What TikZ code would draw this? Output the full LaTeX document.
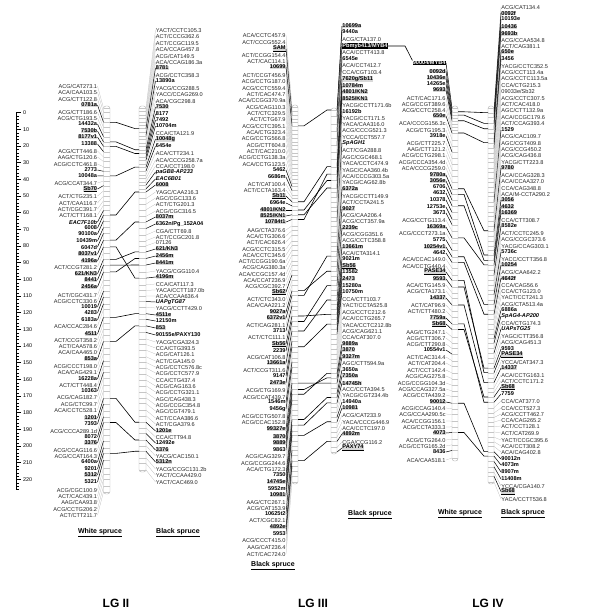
\documentclass[tikz,border=0pt]{standalone}
\usepackage{fontspec}
\setmainfont{Liberation Sans}
\newcount\mkn
\def\sideR{0}
\newcommand\setcol[4]{\def\sideR{#1}\def\xlab{#2}\def\xbA{#3}\def\xbB{#4}}
\newcommand\setmap[6]{\def\mLa{#1}\def\mBa{#2}\def\mLb{#3}\def\mBb{#4}\def\mLc{#5}\def\mBc{#6}}
\newcommand\mk[4][]{%
  \global\advance\mkn by 1\relax
  \def\mkname{#1}%
  \ifx\mkname\empty\edef\mkname{m\the\mkn}\fi
  \pgfmathsetmacro\yb{(#2<\mLb)?(\mBa+(#2-\mLa)/(\mLb-\mLa)*(\mBb-\mBa)):(\mBb+(#2-\mLb)/(\mLc-\mLb)*(\mBc-\mBb))}%
  \draw[tick] (\xbA,\yb) -- (\xbB,\yb);
  \ifnum\sideR=0
    \node[lab,k#3,anchor=east] (\mkname) at (\xlab,#2) {#4};
    \draw[lk#3] (\mkname.east) -- (\xbA,\yb);
    \coordinate (\mkname-b) at (\xbB,\yb);
  \else
    \node[lab,k#3,anchor=west] (\mkname) at (\xlab,#2) {#4};
    \draw[lk#3] (\mkname.west) -- (\xbB,\yb);
    \coordinate (\mkname-b) at (\xbA,\yb);
  \fi
}
\newcommand\cn[2]{\draw[conn] (#1-b) -- ++(6,0) -- ([xshift=-4pt]#2-b) -- (#2-b);}
\begin{document}
\begin{tikzpicture}[x=1pt,y=-1pt,
  lab/.style={inner sep=0.25pt, font=\fontsize{5.6}{6}\selectfont},
  kn/.style={text=black!85},
  kb/.style={font=\fontsize{5.6}{6}\selectfont\bfseries},
  kh/.style={kb, fill=gray!30},
  ku/.style={kh},
  ki/.style={font=\fontsize{5.6}{6}\selectfont\bfseries\itshape},
  kk/.style={kb, fill=black, text=white},
  lkn/.style={draw=gray!55, line width=0.25pt},
  lkb/.style={draw=black, line width=0.5pt},
  lkh/.style={lkb}, lku/.style={lkb}, lki/.style={lkb}, lkk/.style={lkb},
  tick/.style={draw=gray!45, line width=0.2pt},
  bar/.style={draw=gray!60, line width=0.4pt, rounded corners=2.5pt, fill=white},
  conn/.style={draw=black, line width=0.6pt},
  sclab/.style={inner sep=0.5pt, font=\fontsize{5.4}{6}\selectfont},
  sp/.style={inner sep=0.5pt, font=\fontsize{7}{8}\selectfont\bfseries},
  lg/.style={inner sep=0.5pt, font=\fontsize{12}{14}\selectfont\bfseries}]
\useasboundingbox (0,0) rectangle (600,610);
% ---------- scale bar ----------
\draw[line width=0.6pt] (16,112.7) -- (16,489.4);
\foreach \c in {0,2,...,226}{%
  \pgfmathsetmacro\yy{112.7+\c*1.6667}%
  \pgfmathtruncatemacro\mm{mod(\c,10)}%
  \ifnum\mm=0
    \draw[line width=0.5pt] (16,\yy) -- ++(5,0);
    \node[sclab,anchor=west] (s\c) at (22.5,\yy) {\c};
  \else
    \draw[line width=0.4pt] (16,\yy) -- ++(2.5,0);
  \fi}
% ---------- bars ----------
\draw[bar] (103.5,106) rectangle (110,494);
\draw[bar] (139,106) rectangle (146,472);
\draw[bar] (292,105) rectangle (298,484);
\draw[bar] (331,108) rectangle (337,454);
\draw[bar] (452,106) rectangle (458,461);
\draw[bar] (488,106) rectangle (494,484);
% ================= LG II white spruce =================
\setcol{0}{97.5}{103.5}{110}\setmap{86}{108}{228}{215}{515}{492}
\mk{86}{n}{ACG/CAT273.1}
\mk{92}{n}{ACA/CAA103.5}
\mk{99}{n}{ACG/CTT122.8}
\mk[IIw0781]{105}{h}{0781a}
\mk{112}{n}{ACG/CTT186.6}
\mk{118}{n}{ACG/CTG193.5}
\mk{124}{b}{14432a}
\mk[IIw7530]{131}{h}{7530b}
\mk[IIw8177]{137}{h}{8177v1}
\mk{144}{b}{13388}
\mk{151}{n}{ACG/CTT446.8}
\mk{157}{n}{AAG/CTG120.6}
\mk{164}{n}{ACG/CCTC461.8}
\mk{170}{b}{2773}
\mk[IIw10048]{176}{b}{10048a}
\mk{183}{n}{ACG/CCAT344.7}
\mk{189}{u}{\underline{Sb70}}
\mk{196}{n}{ACT/CTG235.1}
\mk{203}{n}{ACT/CAA116.7}
\mk{209}{n}{ACT/CGC391.7}
\mk{215}{n}{ACT/CTT168.1}
\mk{222}{i}{EAC7F10b}
\mk[IIw6008]{228}{b}{6008}
\mk{234}{b}{90100a}
\mk{241}{b}{10439m}
\mk{247}{b}{6047d}
\mk[IIw8037]{254}{h}{8037v1}
\mk[IIw4196]{261}{h}{4196a}
\mk{267}{n}{ACT/CCGT281.2}
\mk[IIw621]{274}{h}{621/KN3}
\mk[IIw8441]{280}{h}{8441}
\mk[IIw2456]{287}{h}{2456a}
\mk{295}{n}{ACT/CGC431.7}
\mk{301}{n}{ACG/CCTC330.6}
\mk{307}{b}{10019}
\mk{313}{b}{4283}
\mk{320}{b}{6183a}
\mk{326}{n}{ACA/CCAC284.6}
\mk[IIw4511]{334}{h}{4511}
\mk{340}{n}{ACT/CCGT358.2}
\mk{346}{n}{ACT/CAA578.6}
\mk{352}{n}{ACA/CAA465.0}
\mk[IIw853]{359}{h}{853a}
\mk{366}{n}{ACG/CCCT198.0}
\mk{372}{n}{ACA/CAG429.1}
\mk{379}{b}{16228a}
\mk{385}{n}{ACT/CTT448.4}
\mk{391}{b}{10363}
\mk{397}{n}{ACG/CAG182.7}
\mk{404}{n}{ACG/CTC99.7}
\mk{410}{n}{ACA/CCTC528.1}
\mk[IIw1201]{418}{h}{1201}
\mk{424}{b}{7393}
\mk{431}{n}{ACG/CCCA289.1d}
\mk{437}{b}{8072}
\mk[IIw3376]{443}{h}{3376}
\mk{450}{n}{ACG/CCAG116.6}
\mk{456}{n}{ACG/CCAT164.3}
\mk{462}{b}{6400a}
\mk{469}{b}{9201}
\mk[IIw5312]{475}{h}{5312}
\mk{482}{b}{5321}
\mk{490}{n}{ACG/CGC100.9}
\mk{496}{n}{ACT/CAC439.1}
\mk{502}{n}{AAG/CAA93.8}
\mk{509}{n}{ACG/CCTG206.2}
\mk{515}{n}{ACT/CTT211.7}
% ================= LG II black spruce =================
\setcol{1}{155.5}{139}{146}\setmap{30}{108}{185}{192}{482}{470}
\mk{30}{n}{YACT/CCTC105.3}
\mk{36}{n}{ACT/CCCG362.6}
\mk{43}{n}{ACT/CCGC119.5}
\mk{49}{n}{ACA/CCAG457.8}
\mk{56}{n}{ACG/CAT149.5}
\mk{62}{n}{ACA/CCAG186.3a}
\mk[IIb0781]{68}{h}{8781}
\mk{75}{n}{ACG/CCTC358.3}
\mk{81}{b}{13890a}
\mk{88}{n}{YACG/CCG288.5}
\mk{94}{n}{YACC/CCAG269.0}
\mk{101}{n}{ACA/CGC298.8}
\mk[IIb7530]{107}{h}{7530}
\mk[IIb8177]{114}{b}{8177}
\mk{120}{b}{7492}
\mk{126}{b}{10704m}
\mk{133}{n}{CCA/CTA121.9}
\mk[IIb10048]{139}{h}{10048g}
\mk{146}{b}{6454e}
\mk{153}{n}{ACA/CTT234.1}
\mk{160}{n}{ACA/CCCG258.7a}
\mk{166}{n}{CCA/CCT198.0}
\mk{172}{i}{paGB8-AP233}
\mk{179}{i}{EAC6B01}
\mk[IIb6008]{185}{h}{6008}
\mk{192}{n}{YAGC/CAA216.3}
\mk{198}{n}{AGC/CGC133.6}
\mk{204}{n}{ACT/CTG201.3}
\mk{211}{n}{ACG/CGC316.5}
\mk[IIb8037]{217}{h}{8037m}
\mk{224}{b}{6362n/Pg\_152A04}
\mk{231}{n}{CGA/CTT69.8}
\mk{237}{n}{ACT/CCGC201.8}
\mk{242.5}{n}{07126}
\mk[IIb621]{249}{h}{621/KN3}
\mk[IIb2456]{256}{h}{2456m}
\mk[IIb8441]{263}{h}{8441m}
\mk{271}{n}{YACG/CGG110.4}
\mk[IIb4196]{277}{h}{4196m}
\mk{284}{n}{CCA/CAT117.3}
\mk{290}{n}{YACA/CCTT187.0b}
\mk{296}{n}{ACA/CCAA636.4}
\mk{302}{i}{UAPgTG87}
\mk{308}{n}{YACG/CCTT429.0}
\mk[IIb4511]{315}{h}{4511e}
\mk{321}{b}{12150m}
\mk[IIb853]{328}{h}{853}
\mk{335}{b}{90155e/PAXY130}
\mk{342}{n}{YACG/CGA324.3}
\mk{348}{n}{CCA/CTG393.5}
\mk{354}{n}{ACG/CAT126.1}
\mk{361}{n}{ACT/CGA145.0}
\mk{367}{n}{ACG/CCTC576.8c}
\mk{373}{n}{ACG/CCTC577.9}
\mk{380}{n}{CCA/CTG437.4}
\mk{386}{n}{ACG/CAG163.6}
\mk{392}{n}{ACG/CCTG321.1}
\mk{399}{n}{AGC/CAG438.3}
\mk{405}{n}{ACG/CCGC354.8}
\mk{411}{n}{AGC/CGT479.1}
\mk{418}{n}{ACT/CCAA386.6}
\mk{424}{n}{ACT/CGA379.6}
\mk[IIb1201]{431}{h}{1201e}
\mk{437}{n}{CCA/CTT94.8}
\mk{443}{b}{12492e}
\mk[IIb3376]{450}{h}{3376}
\mk{456}{n}{YACG/CAC150.1}
\mk[IIb5312]{462}{h}{5312n}
\mk{469}{n}{YACG/CCGC131.2b}
\mk{475}{n}{YACT/CCAA429.0}
\mk{482}{n}{YACT/CAC469.0}
% ================= LG III black spruce (left) =================
\setcol{0}{286}{292}{298}\setmap{35}{107}{210}{210}{554}{482}
\mk{35}{n}{ACA/CCTC457.9}
\mk{42}{n}{ACT/CCCG552.4}
\mk{49}{u}{\underline{SAM}}
\mk{55}{n}{ACT/CCGG154.4}
\mk{61}{n}{ACT/CAC114.1}
\mk[IIIl10699]{67}{h}{10699}
\mk{75}{n}{ACT/CCGT456.9}
\mk{81}{n}{ACG/CCTG187.0}
\mk{88}{n}{ACG/CCTC559.4}
\mk{94}{n}{ACT/CAC474.7}
\mk{100}{n}{ACA/CCGG370.9a}
\mk{107}{n}{ACG/CAG110.3}
\mk{113}{n}{ACT/CTC329.5}
\mk{119}{n}{ACT/CTG67.9}
\mk{126}{n}{ACG/CCTC395.1}
\mk{132}{n}{ACA/CTG323.4}
\mk{138}{n}{ACG/CCTG566.8}
\mk{145}{n}{ACG/CTT604.8}
\mk{151}{n}{ACT/CAC210.0}
\mk{157}{n}{ACG/CCTG138.3a}
\mk{164}{n}{ACA/CCTG123.5}
\mk{170}{b}{5462}
\mk{177}{b}{6686m}
\mk{184}{n}{ACT/CAT100.4}
\mk{190}{n}{ACT/CCTA163.4}
\mk[IIIlSb11]{196}{u}{\underline{Sb11}}
\mk{203}{b}{6964e}
\mk[IIIl4801]{210}{h}{4801/KN2}
\mk[IIIl8525]{216}{h}{8525/KN1}
\mk[IIIl10784]{222}{h}{10784t1}
\mk{230}{n}{AAG/CTA376.6}
\mk{236}{n}{ACA/CTG306.6}
\mk{242}{n}{ACT/CAC626.4}
\mk{249}{n}{ACG/CCTC315.5}
\mk{255}{n}{ACA/CCTC345.6}
\mk{261}{n}{ACT/CCGG190.6a}
\mk{267}{n}{ACG/CAG380.3a}
\mk{274}{n}{ACA/CCGC157.4d}
\mk{280}{n}{ACA/CCAT236.9}
\mk{286}{n}{ACG/CGC392.7}
\mk{292}{u}{\underline{Sb62}}
\mk{299}{n}{ACT/CTC343.0}
\mk{305}{n}{ACA/CAA221.2}
\mk[IIIl9027]{312}{h}{9027a}
\mk[IIIl6372]{318}{h}{6372v1}
\mk{325}{n}{ACT/CAG281.1}
\mk{331}{b}{3713}
\mk{337}{n}{ACT/CTC111.1}
\mk[IIIlSb56]{344}{u}{\underline{Sb56}}
\mk[IIIl2239]{351}{b}{2239}
\mk{357}{n}{ACG/CAT106.8}
\mk[IIIl13661]{363}{h}{13661a}
\mk{370}{n}{ACT/CCGT311.6}
\mk{376}{b}{9147}
\mk[IIIl2473]{383}{h}{2473e}
\mk{390}{n}{ACG/CTG169.9}
\mk{397}{n}{ACG/CCAT439.7}
\mk{402}{b}{1546m}
\mk{409}{b}{9456g}
\mk{416}{n}{ACG/CCTG507.8}
\mk{422}{n}{ACG/CCAC152.8}
\mk[IIIl9327]{429}{h}{99327e}
\mk[IIIl3870]{437}{h}{3870}
\mk[IIIl9889]{443}{h}{9889}
\mk{450}{b}{9863}
\mk{456}{n}{ACG/CAG329.7}
\mk{463}{n}{ACG/CCGG244.6}
\mk{469}{n}{ACA/CTG172.3}
\mk[IIIl7350]{475}{b}{7350}
\mk[IIIl14745]{482}{h}{14745e}
\mk{489}{b}{5952m}
\mk[IIIl10981]{495}{h}{10981}
\mk{502}{n}{AAG/CTC267.1}
\mk{508}{n}{ACG/CAT153.9}
\mk{514}{b}{10625t2}
\mk{520}{n}{ACT/CGC82.1}
\mk[IIIl4892]{527}{h}{4892e}
\mk{534}{b}{5953}
\mk{540}{n}{ACG/CCCT415.0}
\mk{547}{n}{AAG/CAT236.4}
\mk{554}{n}{ACT/CAC724.0}
% ================= LG III black spruce (right) =================
\setcol{1}{342}{331}{337}\setmap{26}{110}{99}{188}{448}{452}
\mk[IIIr10699]{26}{h}{10699a}
\mk{32}{b}{9440a}
\mk{39}{n}{ACG/CTA137.0}
\mk[IIIrMYB]{46}{k}{Pbmyb413/MYB4}
\mk{52}{n}{ACA/CCTT413.8}
\mk{59}{b}{6545e}
\mk{65}{n}{ACA/CCT412.7}
\mk{72}{n}{CCA/CGT103.4}
\mk[IIIrSb11]{79}{h}{7620g/Sb11}
\mk[IIIr10784]{86}{h}{10784m}
\mk[IIIr4801]{92}{h}{4801/KN2}
\mk[IIIr8525]{99}{h}{8525/KN1}
\mk{105}{n}{YACG/CCTT171.6b}
\mk{111}{b}{16192b}
\mk{118}{n}{YACG/CCT171.5}
\mk{124}{n}{YACA/CAA316.0}
\mk{130}{n}{ACG/CCCG521.3}
\mk{137}{n}{YCCA/CCT557.7}
\mk{143}{i}{SpAGH1}
\mk{150}{n}{ACT/CGA288.8}
\mk{157}{n}{AGC/CGC468.1}
\mk{163}{n}{YACA/CCTC474.9}
\mk{170}{n}{YAGC/CAA360.4b}
\mk{176}{n}{ACA/CCCG303.5a}
\mk{182}{n}{YACG/CAG62.8b}
\mk[IIIr6372]{189}{h}{6372a}
\mk{196}{n}{YACG/CCTT149.9}
\mk{202}{n}{ACT/CCTA241.5}
\mk[IIIr9027]{209}{h}{9027}
\mk{215}{n}{ACG/CAA206.4}
\mk{221}{n}{ACG/CCT357.9a}
\mk[IIIr2239]{228}{h}{2239c}
\mk{234}{n}{ACG/CGG351.6}
\mk{240}{n}{ACG/CCTC358.8}
\mk[IIIr13661]{247}{h}{13661m}
\mk{253}{n}{ACA/CTA314.1}
\mk{259}{b}{9021m}
\mk[IIIrSb56]{266}{u}{\underline{Sb56}}
\mk{272}{b}{13582}
\mk[IIIr2473]{279}{h}{2473}
\mk{286}{b}{15280a}
\mk{292}{b}{10750m}
\mk{299}{n}{CCA/CTT103.7}
\mk{305}{n}{YACT/CCTA525.8}
\mk{312}{n}{ACG/CCTC212.6}
\mk{318}{n}{ACA/CCTG265.7}
\mk{325}{n}{YACA/CCTC212.8b}
\mk{331}{n}{ACG/CAG621.1}
\mk{337}{n}{CCA/CAT307.0}
\mk[IIIr9889]{344}{h}{9889a}
\mk[IIIr3870]{350}{h}{3870}
\mk[IIIr9327]{357}{h}{9327m}
\mk{363}{n}{AGC/CTT594.9a}
\mk{370}{b}{3650a}
\mk[IIIr7350]{376}{h}{7350a}
\mk[IIIr14745]{383}{h}{14745h}
\mk{389}{n}{ACC/CCTA394.5}
\mk{395}{n}{YACG/CGT234.4b}
\mk{402}{b}{14940a}
\mk[IIIr10981]{408}{h}{10981}
\mk{415}{n}{ACG/CAT233.9}
\mk{422}{n}{YACA/CCCG446.9}
\mk{428}{n}{ACA/CCTC197.0}
\mk[IIIr4892]{434}{h}{4892m}
\mk{442}{n}{CGA/CCG116.2}
\mk{448}{u}{\underline{PAXY74}}
% ================= LG IV white spruce =================
\setcol{0}{446}{452}{458}\setmap{63}{108}{116}{133}{460}{458}
\mk[IVwMYB]{63}{k}{90004/MYB4}
\mk[IVw0092]{71}{h}{0092d}
\mk[IVw10436]{78}{h}{10436e}
\mk{84}{b}{14265e}
\mk[IVw9693]{90}{h}{9693}
\mk{98}{n}{ACT/CAC171.6}
\mk{104}{n}{ACG/CCGT389.6}
\mk{110}{n}{ACG/CCTC258.4}
\mk[IVw650]{116}{h}{650e}
\mk{123}{n}{ACA/CCCG156.3c}
\mk{130}{n}{ACG/CTG195.3}
\mk{136}{b}{3918e}
\mk{143}{n}{ACG/CTT225.7}
\mk{149}{n}{AAG/CTT121.2}
\mk{155}{n}{ACG/CCTG298.1}
\mk{162}{n}{ACG/CCCA354.4d}
\mk{168}{n}{ACA/CCCG259.0}
\mk[IVw9780]{175}{h}{9780a}
\mk[IVw3056]{181}{h}{3056e}
\mk{187}{b}{6706}
\mk[IVw4632]{193}{b}{4632}
\mk{200}{b}{10378}
\mk{207}{b}{12753e}
\mk{213}{b}{3673}
\mk{220}{n}{ACG/CCTG113.4}
\mk[IVw16369]{227}{h}{16369a}
\mk{233}{n}{ACG/CCCT273.1a}
\mk{240}{b}{5775}
\mk[IVw10254]{247}{h}{10254v1}
\mk[IVw4642]{253}{b}{4642}
\mk{259}{n}{ACA/CCAC149.0}
\mk{266}{n}{ACA/CCTG440.4}
\mk[IVwPASE]{272}{u}{\underline{PASE34}}
\mk[IVw9593]{279}{h}{9593}
\mk{285}{n}{ACA/CTG145.9}
\mk{291}{n}{ACG/CTA173.1}
\mk[IVw14337]{298}{h}{14337}
\mk{305}{n}{ACT/CAT96.9}
\mk{311}{n}{ACT/CTT480.2}
\mk[IVw7759]{318}{h}{7759a}
\mk[IVwSb68]{324}{u}{\underline{Sb68}}
\mk{332}{n}{AAG/CTG247.1}
\mk{338}{n}{ACG/CTT306.7}
\mk{344}{n}{ACG/CTT290.8}
\mk{350}{b}{10554v1}
\mk{357}{n}{ACT/CAC314.4}
\mk{363}{n}{ACT/CAT204.4}
\mk{370}{n}{ACT/CCT142.4}
\mk{376}{n}{ACG/CAG275.8}
\mk{383}{n}{ACG/CCGG104.3d}
\mk{389}{n}{ACG/CCAG327.5a}
\mk{395}{n}{ACG/CCTA439.2}
\mk[IVw90012]{402}{h}{90012}
\mk{408}{n}{ACG/CCAG140.4}
\mk{414}{n}{ACG/CCAA290.5c}
\mk{421}{n}{ACA/CCGG156.1}
\mk{427}{n}{ACG/CCTA333.3}
\mk[IVw4073]{433}{h}{4073}
\mk{440}{n}{ACG/CTG264.0}
\mk{446}{n}{ACG/CCTG165.2d}
\mk{452}{b}{8436}
\mk{460}{n}{ACA/CAA518.1}
% ================= LG IV black spruce =================
\setcol{1}{501}{488}{494}\setmap{7}{108}{59}{148}{499}{482}
\mk{7}{n}{ACG/CAT134.4}
\mk[IVr0092]{13}{h}{0092f}
\mk{19}{b}{10193e}
\mk[IVr10436]{27}{h}{10436}
\mk[IVr9693]{34}{h}{9693b}
\mk{40}{n}{ACG/CCAA534.8}
\mk{46}{n}{ACT/CAG381.1}
\mk[IVr650]{52}{h}{650e}
\mk{59}{b}{3456}
\mk{66}{n}{YACG/CCTC352.5}
\mk{72}{n}{ACG/CCT113.4a}
\mk{78}{n}{ACG/CCTC113.5a}
\mk{85}{n}{CCA/CTG215.3}
\mk{91}{n}{09033e/Sb32}
\mk{98}{n}{ACG/CCTC307.5}
\mk{104}{n}{ACT/CAC418.0}
\mk{110}{n}{AGC/CTT132.9a}
\mk{117}{n}{ACA/CCGC179.6}
\mk{123}{n}{ACT/CCAG393.4}
\mk{130}{b}{1529}
\mk{136}{n}{ACG/CAC109.7}
\mk{143}{n}{AGC/CGT409.8}
\mk{149}{n}{ACG/CCG450.2}
\mk{155}{n}{ACG/CAG436.8}
\mk{162}{n}{YACG/CTT223.8}
\mk[IVr9780]{168}{h}{9780}
\mk{175}{n}{ACA/CCAG328.3}
\mk{181}{n}{ACA/CCAA327.0}
\mk{188}{n}{CCA/CAG348.8}
\mk{194}{n}{ACA/M-CCTA290.2}
\mk[IVr3056]{200}{h}{3056}
\mk[IVr4632]{207}{h}{4632}
\mk[IVr16369]{213}{h}{16369}
\mk{220}{n}{CCA/CTT308.7}
\mk{226}{b}{8582e}
\mk{233}{n}{ACT/CCTC245.9}
\mk{239}{n}{ACG/CCGC373.6}
\mk{246}{n}{YACG/CCAG303.1}
\mk{252}{b}{5736c}
\mk{259}{n}{YACC/CCTT356.8}
\mk[IVr10254]{265}{h}{10254}
\mk{272}{n}{ACG/CAA642.2}
\mk[IVr4642]{278}{h}{4642f}
\mk{285}{n}{CCA/CAG56.6}
\mk{291}{n}{CCA/CTG123.0}
\mk{297}{n}{YACT/CCT241.3}
\mk{304}{n}{ACG/CTA513.4a}
\mk{310}{b}{6886a}
\mk{316}{i}{SpAG4-AP200}
\mk{323}{n}{CCA/CTG174.3}
\mk{329}{i}{UAPsTG25}
\mk{336}{n}{YAGC/CTT356.8}
\mk{342}{n}{ACG/CAG451.3}
\mk[IVr9593]{349}{b}{9593}
\mk[IVrPASE]{355}{u}{\underline{PASE34}}
\mk{362}{n}{YCCA/CAT347.3}
\mk[IVr14337]{368}{h}{14337}
\mk{375}{n}{ACA/CCTG163.1}
\mk{381}{n}{ACT/CCTC171.2}
\mk[IVrSb68]{387}{u}{\underline{Sb68}}
\mk[IVr7759]{394}{b}{7759}
\mk{401}{n}{CCA/CAT377.0}
\mk{408}{n}{CCA/CCT527.3}
\mk{414}{n}{ACG/CCTT462.7}
\mk{420}{n}{CCA/CAG265.2}
\mk{426}{n}{ACT/CCT128.1}
\mk{433}{n}{ACT/CAT269.9}
\mk{440}{n}{YACT/CCGC395.6}
\mk{446}{n}{ACA/CCT308.2}
\mk{452}{n}{ACA/CAG402.8}
\mk[IVr90012]{459}{b}{90012n}
\mk[IVr4073]{465}{b}{4073m}
\mk{472}{b}{8907m}
\mk{479}{b}{11408m}
\mk{486}{n}{YCCA/CGA140.7}
\mk{491.5}{u}{\underline{Sb68}}
\mk{499}{n}{YACA/CCTT536.8}
% ---------- connectors ----------
\cn{IIw0781}{IIb0781}\cn{IIw7530}{IIb7530}\cn{IIw8177}{IIb8177}
\cn{IIw10048}{IIb10048}\cn{IIw6008}{IIb6008}\cn{IIw8037}{IIb8037}
\cn{IIw4196}{IIb4196}\cn{IIw621}{IIb621}\cn{IIw8441}{IIb8441}
\cn{IIw2456}{IIb2456}\cn{IIw4511}{IIb4511}\cn{IIw853}{IIb853}
\cn{IIw1201}{IIb1201}\cn{IIw3376}{IIb3376}\cn{IIw5312}{IIb5312}
\cn{IIIl10699}{IIIr10699}\cn{IIIlSb11}{IIIrSb11}\cn{IIIl4801}{IIIr4801}
\cn{IIIl8525}{IIIr8525}\cn{IIIl10784}{IIIr10784}\cn{IIIl9027}{IIIr9027}
\cn{IIIl6372}{IIIr6372}\cn{IIIlSb56}{IIIrSb56}\cn{IIIl2239}{IIIr2239}
\cn{IIIl13661}{IIIr13661}\cn{IIIl2473}{IIIr2473}\cn{IIIl3870}{IIIr3870}
\cn{IIIl9889}{IIIr9889}\cn{IIIl9327}{IIIr9327}\cn{IIIl7350}{IIIr7350}
\cn{IIIl14745}{IIIr14745}\cn{IIIl10981}{IIIr10981}\cn{IIIl4892}{IIIr4892}
\cn{IVw0092}{IVr0092}\cn{IVw10436}{IVr10436}\cn{IVw9693}{IVr9693}
\cn{IVw650}{IVr650}\cn{IVw9780}{IVr9780}\cn{IVw3056}{IVr3056}
\cn{IVw4632}{IVr4632}\cn{IVw16369}{IVr16369}\cn{IVw10254}{IVr10254}
\cn{IVw4642}{IVr4642}\cn{IVwPASE}{IVrPASE}\cn{IVw9593}{IVr9593}
\cn{IVw14337}{IVr14337}\cn{IVw7759}{IVr7759}\cn{IVwSb68}{IVrSb68}
\cn{IVw90012}{IVr90012}\cn{IVw4073}{IVr4073}
% MYB4 link between LG III and LG IV
\draw[conn] (IIIrMYB.east) -- ++(17,0) -- (IVwMYB.north west);
% ---------- captions ----------
\node[sp] (capIIw) at (100,533) {\underline{White spruce}};
\node[sp] (capIIb) at (178,533) {\underline{Black spruce}};
\node[sp] (capIIIl) at (273,566) {\underline{Black spruce}};
\node[sp] (capIIIr) at (370,515) {\underline{Black spruce}};
\node[sp] (capIVw) at (460,514) {\underline{White spruce}};
\node[sp] (capIVb) at (523,514) {\underline{Black spruce}};
\node[lg] (lgII) at (116,603) {LG II};
\node[lg] (lgIII) at (313,603) {LG III};
\node[lg] (lgIV) at (488,603) {LG IV};
\end{tikzpicture}
\end{document}
